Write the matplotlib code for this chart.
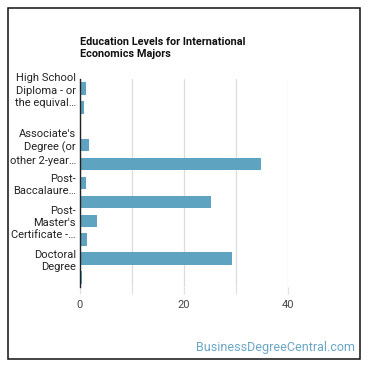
import matplotlib
matplotlib.use("Agg")
import matplotlib.pyplot as plt
from matplotlib.patches import Rectangle

plt.rcParams['font.family'] = ['Roboto', 'DejaVu Sans']

categories = [
    "High School Diploma - or the equivalent",
    "Post-Secondary Certificate",
    "Some College Courses",
    "Associate's Degree (or other 2-year degree)",
    "Bachelor's Degree",
    "Post-Baccalaureate Certificate",
    "Master's Degree",
    "Post-Master's Certificate",
    "First Professional Degree",
    "Doctoral Degree",
    "Post-Doctoral Training",
]
values = [1.2, 0.9, 0.2, 1.9, 34.9, 1.2, 25.3, 3.4, 1.5, 29.3, 0.5]
tick_labels = [
    "High School\nDiploma - or\nthe equival…",
    "",
    "",
    "Associate's\nDegree (or\nother 2-year…",
    "",
    "Post-\nBaccalaure…",
    "",
    "Post-\nMaster's\nCertificate -…",
    "",
    "Doctoral\nDegree",
    "",
]
x_ticks = [0, 10, 20, 30, 40]
x_tick_labels = ["0", "", "20", "", "40"]
title = "Education Levels for International\nEconomics Majors"
watermark = "BusinessDegreeCentral.com"

W = H = 370
fig = plt.figure(figsize=(3.7, 3.7), dpi=100)
fig.patch.set_facecolor("white")

# outer frame
fig.patches.append(Rectangle((7.5 / W, 1 - 359 / H), (360 - 7.5) / W, (359 - 7.5) / H,
                             transform=fig.transFigure, fill=False,
                             edgecolor="#111111", linewidth=1.1))

left, right, top, bottom = 79.5, 288, 79, 287
ax = fig.add_axes([left / W, 1 - bottom / H, (right - left) / W, (bottom - top) / H])

pos = list(range(len(categories)))
ax.barh(pos, values, height=0.66, color="#5ea3bf")
ax.set_ylim(len(categories) - 0.5, -0.5)
ax.set_xlim(0, 40)
ax.set_yticks(pos)
ax.set_yticklabels(tick_labels, fontsize=8, color="#222222", linespacing=1.3)
ax.tick_params(axis="y", length=0, pad=2.5)
ax.set_xticks(x_ticks)
ax.set_xticklabels(x_tick_labels, fontsize=8, color="#444444")
ax.tick_params(axis="x", length=5, color="#e0e0e0", width=0.9, pad=4)
ax.grid(axis="x", color="#dcdcdc", linewidth=0.9)
ax.set_axisbelow(True)
for s in ["top", "right", "bottom"]:
    ax.spines[s].set_visible(False)
ax.spines["left"].set_color("#222222")
ax.spines["left"].set_linewidth(1)

fig.text(80 / W, 1 - 48 / H, title, fontsize=7.8, fontweight="bold",
         color="#111111", ha="left", va="center", linespacing=1.3)
fig.text(355 / W, 1 - 348 / H, watermark, fontsize=9, color="#6aa6c6",
         ha="right", va="center")

fig.savefig("out.png", dpi=100, facecolor="white")
